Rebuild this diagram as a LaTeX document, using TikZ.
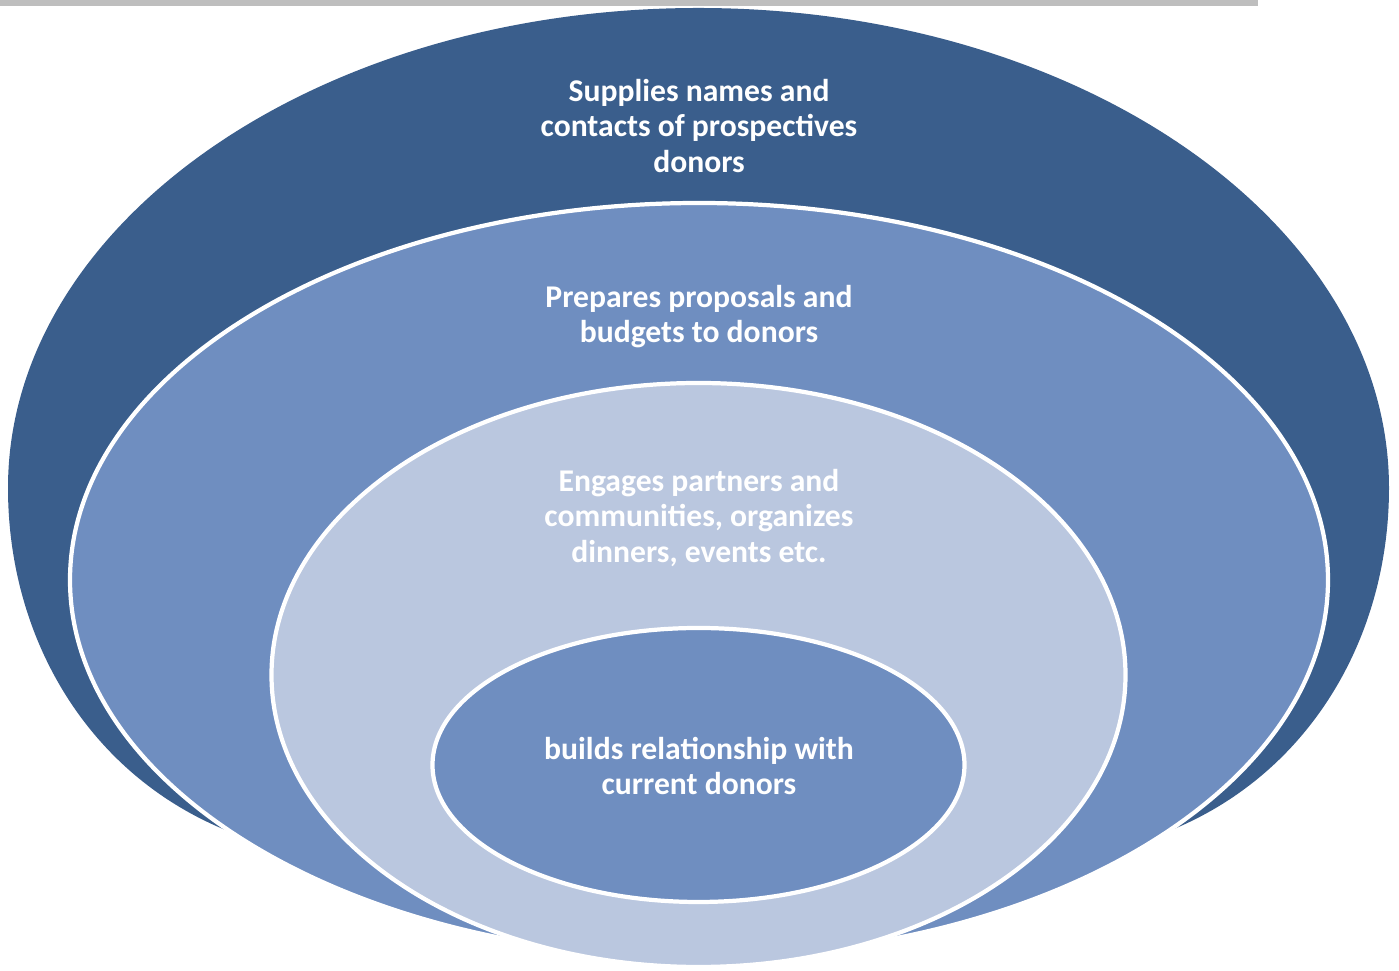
\documentclass[tikz,border=0pt]{standalone}
\usepackage{fontspec}
\setmainfont{Carlito}
\definecolor{ringdark}{RGB}{58,94,140}
\definecolor{ringmid}{RGB}{111,142,192}
\definecolor{ringlight}{RGB}{186,199,223}
\definecolor{bargray}{RGB}{190,190,190}
\tikzset{
  ring/.style={draw=white,line width=1.2pt},
  ringtext/.style={text=white,align=center,font=\bfseries\fontsize{9}{10}\selectfont}
}
\begin{document}
\begin{tikzpicture}[x=0.01cm,y=-0.01cm]
    \useasboundingbox (0,0) rectangle (1399,971);
    \fill[bargray] (0,0) rectangle (1258,6);
    % outer ring, its lower part runs in under the next one
    \fill[ringdark] (8,488) arc [start angle=180, end angle=360, x radius=690.5, y radius=480]
      .. controls (1389,640) and (1307,778) .. (1164,833) -- (1077,872) -- (320,872)
      -- (233,833) .. controls (90,778) and (8,640) .. (8,488) -- cycle;
    \filldraw[ring,fill=ringmid] (699,580) ellipse [x radius=629, y radius=377];
    \filldraw[ring,fill=ringlight] (698.5,675) ellipse [x radius=427, y radius=292];
    \filldraw[ring,fill=ringmid] (698.5,765) ellipse [x radius=266, y radius=137];
    \node[ringtext] (supplies) at (699,126) {Supplies names and\\contacts of prospectives\\donors};
    \node[ringtext] (prepares) at (699,317) {Prepares proposals and\\budgets to donors};
    \node[ringtext] (engages) at (699,518) {Engages partners and\\communities, organizes\\dinners, events etc.};
    \node[ringtext] (builds) at (699,766) {builds relationship with\\current donors};
  \end{tikzpicture}
\end{document}
